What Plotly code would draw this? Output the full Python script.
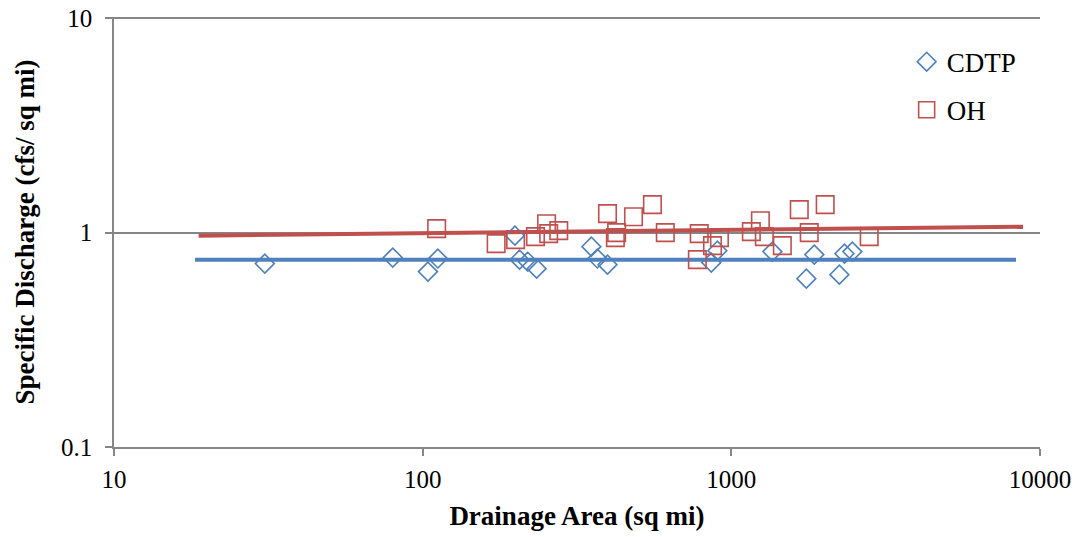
import plotly.graph_objects as go

# CDTP (diamonds)
cdtp_area = [30.8, 80, 104, 112, 199, 206, 219, 234, 352, 368, 397, 861, 901,
             1358, 1750, 1857, 2239, 2325, 2466]
cdtp_q = [0.717, 0.765, 0.658, 0.757, 0.968, 0.748, 0.732, 0.679, 0.860, 0.757,
          0.709, 0.725, 0.824, 0.816, 0.610, 0.790, 0.637, 0.798, 0.816]

# OH (squares)
oh_area = [111, 173, 200, 232, 252, 256, 276, 397, 425, 421, 482, 555, 611,
           787, 776, 869, 915, 1161, 1242, 1279, 1463, 1660, 1788, 2014, 2797]
oh_q = [1.044, 0.889, 0.928, 0.958, 1.101, 0.989, 1.022, 1.226, 1.000, 0.948,
        1.187, 1.351, 1.000, 0.989, 0.748, 0.870, 0.948, 1.011, 1.137, 0.958,
        0.870, 1.280, 1.000, 1.351, 0.958]

# Power trend lines (endpoints)
cdtp_trend_x = [18.3, 8360]
cdtp_trend_y = [0.748, 0.748]
oh_trend_x = [18.8, 8810]
oh_trend_y = [0.968, 1.066]

x_ticks = [10, 100, 1000, 10000]
x_tick_text = ["10", "100", "1000", "10000"]
y_ticks = [0.1, 1, 10]
y_tick_text = ["0.1", "1", "10"]

BLUE = "#4F81BD"
RED = "#C0504D"
GRID = "#868686"
FONT = "Liberation Serif, Times New Roman, serif"
TICK_FS = 25
TITLE_FS = 27
LEG_FS = 27

fig = go.Figure()
fig.add_trace(go.Scatter(x=cdtp_trend_x, y=cdtp_trend_y, mode="lines",
                         line=dict(color=BLUE, width=4), showlegend=False,
                         hoverinfo="skip"))
fig.add_trace(go.Scatter(x=oh_trend_x, y=oh_trend_y, mode="lines",
                         line=dict(color=RED, width=4), showlegend=False,
                         hoverinfo="skip"))
fig.add_trace(go.Scatter(x=cdtp_area, y=cdtp_q, mode="markers", name="CDTP",
                         legendgroup="a",
                         marker=dict(symbol="diamond-open", size=14.5,
                                     color=BLUE, line=dict(width=1.6, color=BLUE))))
fig.add_trace(go.Scatter(x=oh_area, y=oh_q, mode="markers", name="OH",
                         legendgroup="b",
                         marker=dict(symbol="square-open", size=17.5,
                                     color=RED, line=dict(width=1.6, color=RED))))

fig.update_layout(
    width=1086, height=537,
    margin=dict(l=114, r=46, t=17, b=90, autoexpand=False),
    paper_bgcolor="white", plot_bgcolor="white",
    font=dict(family=FONT, size=TICK_FS, color="black"),
    legend=dict(x=0.856, y=0.952, xanchor="left", yanchor="top",
                bgcolor="rgba(0,0,0,0)", traceorder="grouped",
                tracegroupgap=10, font=dict(family=FONT, size=LEG_FS),
                itemwidth=30),
    xaxis=dict(type="log", range=[1, 4], tickvals=x_ticks, ticktext=x_tick_text,
               tickfont=dict(family=FONT, size=TICK_FS),
               showgrid=False, showline=True, linecolor=GRID, linewidth=1.5,
               ticks="outside", ticklen=7, tickcolor=GRID, tickwidth=1.5,
               ticklabelstandoff=2, ticklabeloverflow="allow",
               zeroline=False, automargin=False,
               title=dict(text="<b>Drainage Area (sq mi)</b>", standoff=14,
                          font=dict(family=FONT, size=TITLE_FS))),
    yaxis=dict(type="log", range=[-1, 1.006], tickvals=y_ticks, ticktext=y_tick_text,
               tickfont=dict(family=FONT, size=TICK_FS),
               showgrid=True, gridcolor=GRID, gridwidth=1.5,
               showline=True, linecolor=GRID, linewidth=1.5,
               ticks="outside", ticklen=7, tickcolor=GRID, tickwidth=1.5,
               ticklabelstandoff=8, ticklabeloverflow="allow",
               zeroline=False, automargin=False,
               title=dict(text="<b>Specific Discharge (cfs/ sq mi)</b>", standoff=19,
                          font=dict(family=FONT, size=TITLE_FS))),
)

fig.write_html("out.html",
               config={"displayModeBar": False},
               post_script="document.body.style.margin='0';document.body.style.overflow='hidden';")
